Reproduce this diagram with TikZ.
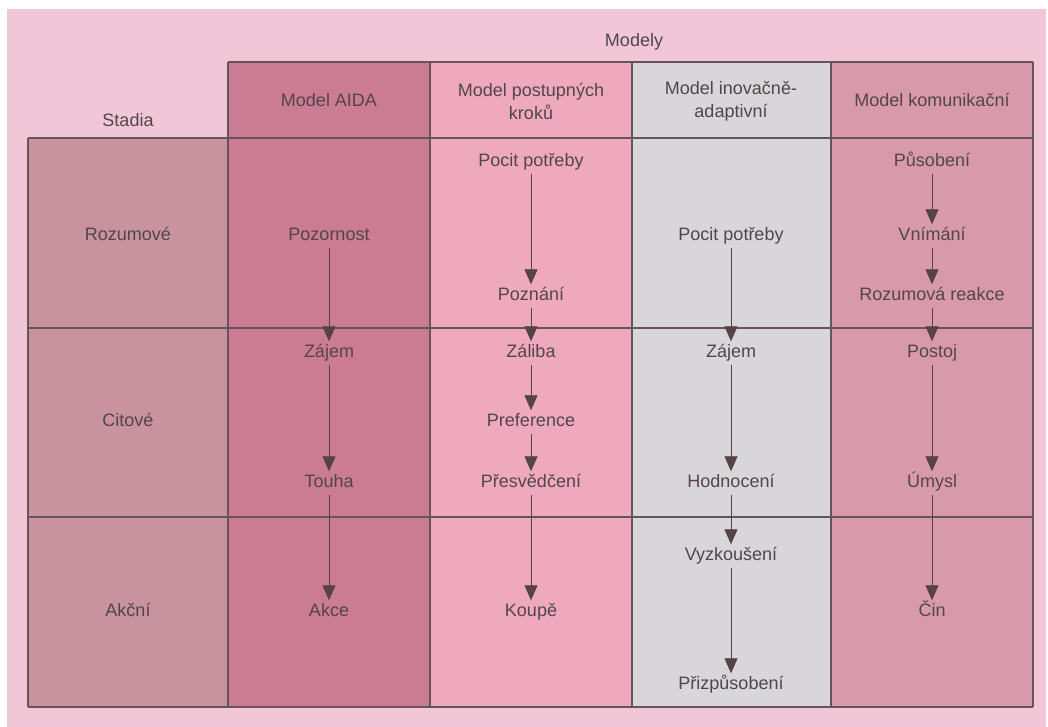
\documentclass[tikz,border=0pt]{standalone}
\usepackage{fontspec}
\setmainfont{Liberation Sans}
\usetikzlibrary{arrows.meta}
\definecolor{bg}{HTML}{F1C6D6}
\definecolor{stc}{HTML}{C8929F}
\definecolor{aida}{HTML}{CB7B94}
\definecolor{post}{HTML}{EEA9BF}
\definecolor{inov}{HTML}{D9D6D9}
\definecolor{kom}{HTML}{D999AC}
\definecolor{txt}{HTML}{52464A}
\definecolor{arrc}{HTML}{574248}
\definecolor{gridc}{HTML}{65545A}
\begin{document}
\begin{tikzpicture}[x=1pt,y=-1pt,
  lbl/.style={font=\fontsize{18}{23}\selectfont, text=txt, inner sep=3pt, align=center, text height=13pt, text depth=4pt},
  hdr/.style={font=\fontsize{18}{23}\selectfont, text=txt, inner sep=3pt, align=center},
  arr/.style={draw=arrc, line width=0.8pt, -{Triangle[width=13pt,length=15pt]}},
  gridline/.style={draw=gridc, line width=1.1pt}]
\useasboundingbox (0,0) rectangle (1048,727);
\fill[white] (0,0) rectangle (1048,727);
\fill[bg] (7,9) rectangle (1046,727);
% column fills
\fill[stc] (28,138) rectangle (228,707);
\fill[aida] (228,62) rectangle (430,707);
\fill[post] (430,62) rectangle (632,707);
\fill[inov] (632,62) rectangle (831,707);
\fill[kom] (831,62) rectangle (1033,707);
% grid
\draw[gridline] (228,62) -- (1033,62);
\draw[gridline] (28,138) -- (1033,138);
\draw[gridline] (28,328) -- (1033,328);
\draw[gridline] (28,517) -- (1033,517);
\draw[gridline] (28,707) -- (1033,707);
\draw[gridline] (28,138) -- (28,707);
\foreach \x in {228,430,632,831,1033} \draw[gridline] (\x,62) -- (\x,707);
% headers
\node[hdr] (modely) at (634,42) {Modely};
\node[hdr] (stadia) at (128,120) {Stadia};
\node[hdr] (h1) at (329,100) {Model AIDA};
\node[hdr] (h2) at (531,101) {Model postupných\\kroků};
\node[hdr] (h3) at (731,101) {Model inovačně-\\adaptivní};
\node[hdr] (h4) at (932,100) {Model komunikační};
% stages
\node[lbl] (s1) at (128,236) {Rozumové};
\node[lbl] (s2) at (128,422) {Citové};
\node[lbl] (s3) at (128,612) {Akční};
% AIDA
\node[lbl] (a1) at (329,236) {Pozornost};
\node[lbl] (a2) at (329,353) {Zájem};
\node[lbl] (a3) at (329,483) {Touha};
\node[lbl] (a4) at (329,612) {Akce};
% postupnych kroku
\node[lbl] (p1) at (531,162) {Pocit potřeby};
\node[lbl] (p2) at (531,296) {Poznání};
\node[lbl] (p3) at (531,353) {Záliba};
\node[lbl] (p4) at (531,422) {Preference};
\node[lbl] (p5) at (531,483) {Přesvědčení};
\node[lbl] (p6) at (531,612) {Koupě};
% inovacne-adaptivni
\node[lbl] (i1) at (731,236) {Pocit potřeby};
\node[lbl] (i2) at (731,353) {Zájem};
\node[lbl] (i3) at (731,483) {Hodnocení};
\node[lbl] (i4) at (731,556) {Vyzkoušení};
\node[lbl] (i5) at (731,685) {Přizpůsobení};
% komunikacni
\node[lbl] (k1) at (932,162) {Působení};
\node[lbl] (k2) at (932,236) {Vnímání};
\node[lbl] (k3) at (932,296) {Rozumová reakce};
\node[lbl] (k4) at (932,353) {Postoj};
\node[lbl] (k5) at (932,483) {Úmysl};
\node[lbl] (k6) at (932,612) {Čin};
% arrows
\draw[arr] (a1) -- (a2);
\draw[arr] (a2) -- (a3);
\draw[arr] (a3) -- (a4);
\draw[arr] (p1) -- (p2);
\draw[arr] (p2) -- (p3);
\draw[arr] (p3) -- (p4);
\draw[arr] (p4) -- (p5);
\draw[arr] (p5) -- (p6);
\draw[arr] (i1) -- (i2);
\draw[arr] (i2) -- (i3);
\draw[arr] (i3) -- (i4);
\draw[arr] (i4) -- (i5);
\draw[arr] (k1) -- (k2);
\draw[arr] (k2) -- (k3);
\draw[arr] (k3) -- (k4);
\draw[arr] (k4) -- (k5);
\draw[arr] (k5) -- (k6);
\end{tikzpicture}
\end{document}
